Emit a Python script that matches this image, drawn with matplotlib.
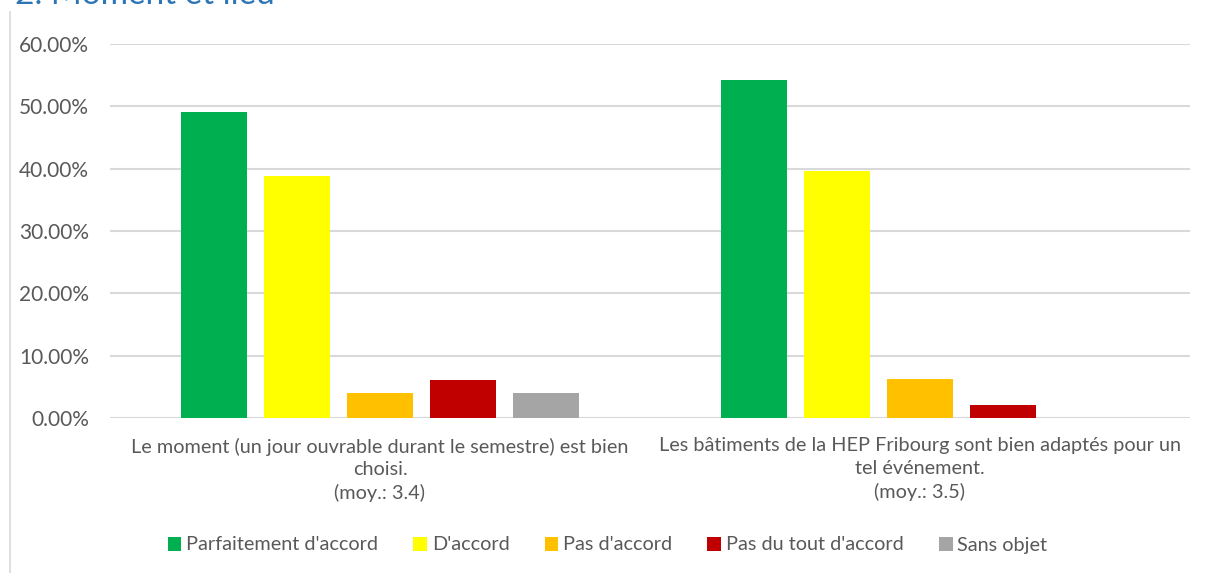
import numpy as np
import matplotlib
matplotlib.use("Agg")
import matplotlib.pyplot as plt
from matplotlib.lines import Line2D
from matplotlib.ticker import PercentFormatter

plt.rcParams["font.family"] = ["Lato", "DejaVu Sans"]

categories = [
    "Le moment (un jour ouvrable durant le semestre) est bien\nchoisi.\n(moy.: 3.4)",
    "Les bâtiments de la HEP Fribourg sont bien adaptés pour un\ntel événement.\n(moy.: 3.5)",
]
series = ["Parfaitement d'accord", "D'accord", "Pas d'accord",
          "Pas du tout d'accord", "Sans objet"]
values = {
    "Parfaitement d'accord": [49.02, 54.17],
    "D'accord": [38.78, 39.58],
    "Pas d'accord": [4.08, 6.25],
    "Pas du tout d'accord": [6.12, 2.08],
    "Sans objet": [4.08, 0.0],
}
colors = ["#00b050", "#ffff00", "#ffc000", "#c00000", "#a5a5a5"]

fig = plt.figure(figsize=(12.15, 5.73), dpi=100)
ax = fig.add_axes([110 / 1215, 1 - 418 / 573, 1080 / 1215, 374 / 573])

x = np.arange(len(categories))
step, width = 0.154, 0.122
for i, (name, col) in enumerate(zip(series, colors)):
    ax.bar(x + (i - 2) * step, values[name], width, color=col, label=name, zorder=3)

ax.set_xlim(-0.5, 1.5)
ax.set_ylim(0, 60)
ax.set_yticks(np.arange(0, 61, 10))
ax.yaxis.set_major_formatter(PercentFormatter(decimals=2))
ax.grid(axis="y", color="#d9d9d9", lw=1.5, zorder=0)
for s in ax.spines.values():
    s.set_visible(False)
ax.tick_params(axis="y", length=0, pad=15, labelsize=15, labelcolor="#595959")
ax.set_xticks(x)
ax.set_xticklabels(categories, fontsize=14.3, color="#595959", linespacing=1.4)
ax.tick_params(axis="x", length=0, pad=14)

fig.legend(loc="center", bbox_to_anchor=(0.5, 1 - 545 / 573), ncol=5, frameon=False,
           fontsize=14.3, handlelength=0.7, handleheight=0.7, handletextpad=0.25,
           columnspacing=1.75, labelcolor="#595959")

# titre coupé en haut et bord gauche
fig.text(15 / 1215, 1 - 4 / 573, "2. Moment et lieu", color="#2e75b6",
         fontsize=24, va="baseline", ha="left")
fig.add_artist(Line2D([10 / 1215, 10 / 1215], [0, 1 - 12 / 573],
                      color="#d9d9d9", lw=1.2))

fig.savefig("out.png", dpi=100)
